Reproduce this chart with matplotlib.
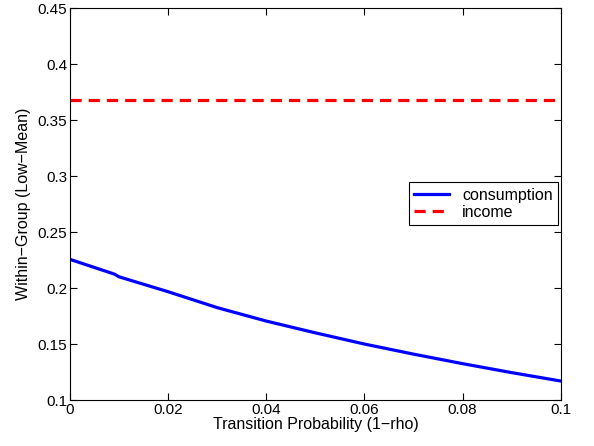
import matplotlib
matplotlib.use('Agg')
import matplotlib.pyplot as plt
import numpy as np

plt.rcParams['font.family'] = ['Liberation Sans', 'DejaVu Sans']

# transition probability (1-rho)
trans_prob = [0, 0.005, 0.009, 0.010, 0.02, 0.03, 0.04, 0.05, 0.06, 0.07, 0.08, 0.09, 0.10]
# within-group inequality (low-mean)
consumption = [0.2256, 0.2183, 0.2125, 0.2100, 0.1967, 0.1825, 0.1705, 0.1600,
               0.1500, 0.1410, 0.1325, 0.1245, 0.1170]
income = [0.368] * len(trans_prob)

fig = plt.figure(figsize=(5.94, 4.46), dpi=100)
ax = fig.add_axes([0.118, 0.103, 0.826, 0.879])

ax.plot(trans_prob, consumption, color='#0000ff', lw=2.3, label='consumption')
ax.plot(trans_prob, income, color='#ff0000', lw=2.3, ls=(0, (3.5, 2.2)), label='income')

ax.set_xlim(0, 0.1)
ax.set_ylim(0.1, 0.45)
ax.set_xticks(np.arange(0, 0.101, 0.02))
ax.set_xticklabels(['0', '0.02', '0.04', '0.06', '0.08', '0.1'])
ax.set_yticks(np.arange(0.1, 0.451, 0.05))
ax.set_yticklabels(['0.1', '0.15', '0.2', '0.25', '0.3', '0.35', '0.4', '0.45'])
ax.tick_params(direction='in', top=True, right=True, labelsize=11, length=5, pad=2)
for s in ax.spines.values():
    s.set_linewidth(0.8)

ax.set_xlabel('Transition Probability (1\u2212rho)', fontsize=11.5, labelpad=0)
ax.set_ylabel('Within\u2212Group (Low\u2212Mean)', fontsize=11.5, labelpad=5)

leg = ax.legend(loc='upper left', bbox_to_anchor=(0.69, 0.556), fancybox=False,
                edgecolor='black', fontsize=11.5, handlelength=2.2, borderpad=0.35,
                labelspacing=0.12, borderaxespad=0, framealpha=1, handletextpad=0.8)
leg.get_frame().set_linewidth(0.8)

fig.savefig('out.png', dpi=100)
